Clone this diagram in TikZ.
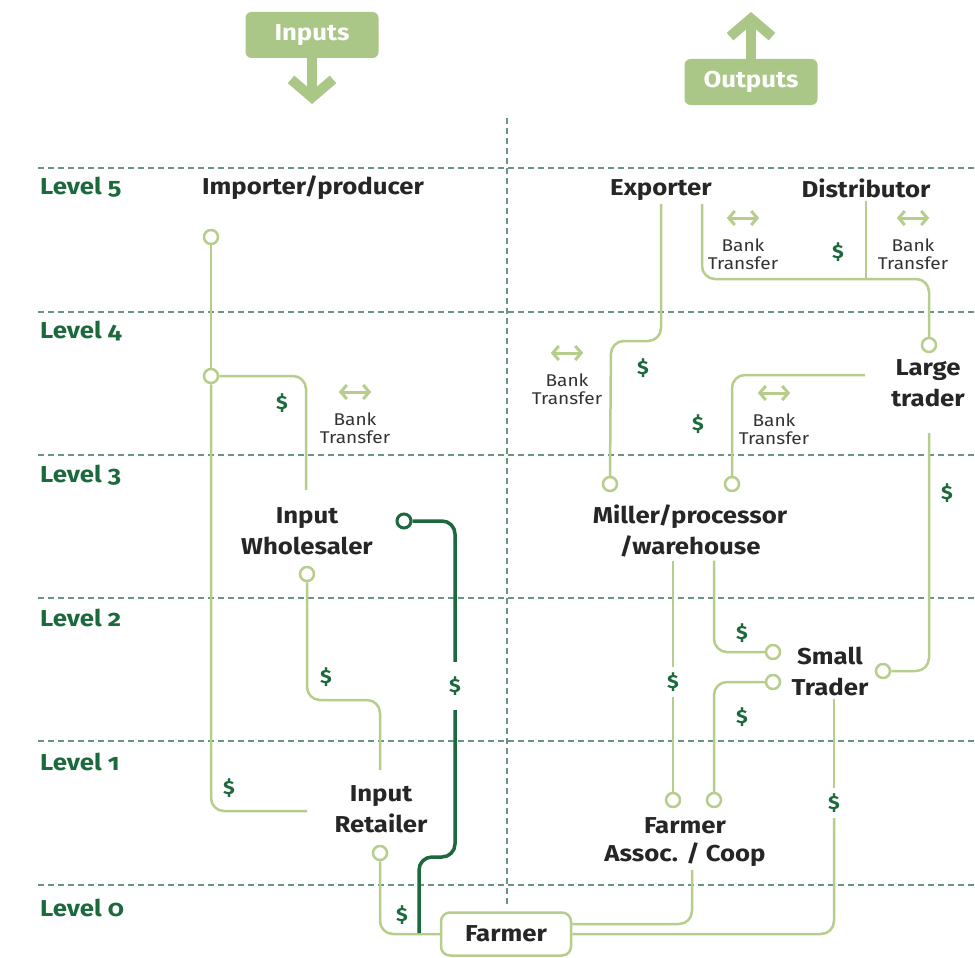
\documentclass[tikz,border=0pt]{standalone}
\usepackage{fontspec}
\setmainfont{Fira Sans}[Numbers=OldStyle, FakeStretch=1.12]
\usepackage{xcolor}
\usepackage{tikz}
\usetikzlibrary{arrows.meta, positioning, calc}
\definecolor{lightgreen}{RGB}{182,205,140}
\definecolor{boxgreen}{RGB}{170,199,135}
\definecolor{darkgreen}{RGB}{27,105,60}
\definecolor{gridgreen}{RGB}{104,150,128}
\tikzstyle{grid} = [draw=gridgreen, line width=1.6pt, dash pattern=on 6pt off 4pt]
\tikzstyle{headbox} = [fill=boxgreen, rounded corners=6pt, text=white, font=\fontsize{23}{26}\selectfont\bfseries, minimum width=133pt, minimum height=46pt]
\tikzstyle{bigarrow} = [draw=boxgreen, line width=10pt, -{Straight Barb[length=18pt, width=42pt]}]
\tikzstyle{level} = [anchor=west, inner sep=0pt, text=darkgreen, font=\fontsize{23}{26}\selectfont\bfseries]
\tikzstyle{actor} = [align=center, text=black!85, font=\fontsize{23}{31}\selectfont\bfseries]
\tikzstyle{farmerbox} = [actor, draw=lightgreen, line width=2.5pt, fill=white, rounded corners=9pt, minimum width=130pt, minimum height=43pt]
\tikzstyle{port} = [circle, draw=lightgreen, line width=2.5pt, fill=white, minimum size=14pt, inner sep=0pt]
\tikzstyle{flow} = [draw=lightgreen, line width=2.5pt, rounded corners=13pt]
\tikzstyle{darkflow} = [draw=darkgreen, line width=3.5pt, rounded corners=13pt]
\tikzstyle{money} = [text=darkgreen, inner sep=2pt, minimum height=30pt, font=\fontsize{19}{21}\selectfont\bfseries]
\tikzstyle{banktext} = [align=center, text=black!80, font=\fontsize{17}{18.5}\selectfont]
\tikzstyle{bankarrow} = [minimum width=32pt, minimum height=14pt, inner sep=0pt]
\tikzstyle{twoway} = [draw=lightgreen, line width=3pt, {Straight Barb[length=6pt, width=14pt]}-{Straight Barb[length=6pt, width=14pt]}]

\begin{document}
\begin{tikzpicture}[x=1pt, y=-1pt]
\useasboundingbox (0,0) rectangle (975,958);

% Level lines
\draw[grid] (38,168) -- (975,168);
\draw[grid] (38,312) -- (975,312);
\draw[grid] (38,455) -- (975,455);
\draw[grid] (38,598) -- (975,598);
\draw[grid] (38,741) -- (975,741);
\draw[grid] (38,885) -- (975,885);
\draw[grid] (507,118) -- (507,905);

% Inputs / Outputs
\node[headbox] (inputs) at (312,35) {Inputs};
\coordinate (intip) at (312,104);
\draw[bigarrow] (inputs.south) -- (intip);
\node[headbox] (outputs) at (751,82) {Outputs};
\coordinate (outtip) at (751,12);
\draw[bigarrow] (outputs.north) -- (outtip);

% Levels
\node[level] (lv5) at (40,187) {Level 5};
\node[level] (lv4) at (40,331) {Level 4};
\node[level] (lv3) at (40,475) {Level 3};
\node[level] (lv2) at (40,618) {Level 2};
\node[level] (lv1) at (40,762) {Level 1};
\node[level] (lv0) at (40,908) {Level 0};

% Actors
\node[actor] (imp) at (313,188) {Importer/producer};
\node[actor] (exp) at (661,190) {Exporter};
\node[actor] (dist) at (866,188) {Distributor};
\node[actor] (large) at (928,383) {Large\\trader};
\node[actor] (whole) at (307,531) {Input\\Wholesaler};
\node[actor] (mill) at (690,531) {Miller/processor\\/warehouse};
\node[actor] (small) at (830,671) {Small\\Trader};
\node[actor] (retail) at (381,809) {Input\\Retailer};
\node[actor, font=\fontsize{23}{28}\selectfont\bfseries] (coop) at (685,842) {Farmer\\Assoc. / Coop};
\node[farmerbox] (farmer) at (506,934) {Farmer};

% Ports
\node[port] (p1) at (211,237) {};
\node[port] (p2) at (211,376) {};
\node[port] (p3) at (307,574) {};
\node[port] (p4) at (380,853) {};
\node[port, draw=darkgreen, line width=3pt] (p5) at (404,521) {};
\node[port] (p6) at (610,484) {};
\node[port] (p7) at (732,484) {};
\node[port] (p8) at (929,345) {};
\node[port] (p9) at (883,671) {};
\node[port] (p10) at (773,652) {};
\node[port] (p11) at (773,682) {};
\node[port] (p12) at (673,800) {};
\node[port] (p13) at (714,800) {};

% Money
\node[money] (m1) at (282,403) {\$};
\node[money] (m2) at (229,788) {\$};
\node[money] (m3) at (326,677) {\$};
\node[money] (m4) at (402,915) {\$};
\node[money, minimum height=48pt] (m5) at (455,686) {\$};
\node[money] (m6) at (643,368) {\$};
\node[money] (m7) at (838,252) {\$};
\node[money] (m8) at (698,424) {\$};
\node[money] (m9) at (947,493) {\$};
\node[money] (m10) at (742,633) {\$};
\node[money] (m11) at (673,682) {\$};
\node[money] (m12) at (742,717) {\$};
\node[money] (m13) at (834,803) {\$};

% Bank transfers
\node[bankarrow] (ba1) at (355,392) {};
\draw[twoway] (ba1.west) -- (ba1.east);
\node[banktext] (bt1) at (355,428) {Bank\\Transfer};
\node[bankarrow] (ba2) at (743,218) {};
\draw[twoway] (ba2.west) -- (ba2.east);
\node[banktext] (bt2) at (743,254) {Bank\\Transfer};
\node[bankarrow] (ba3) at (913,218) {};
\draw[twoway] (ba3.west) -- (ba3.east);
\node[banktext] (bt3) at (913,254) {Bank\\Transfer};
\node[bankarrow] (ba4) at (567,353) {};
\draw[twoway] (ba4.west) -- (ba4.east);
\node[banktext] (bt4) at (567,389) {Bank\\Transfer};
\node[bankarrow] (ba5) at (774,393) {};
\draw[twoway] (ba5.west) -- (ba5.east);
\node[banktext] (bt5) at (774,429) {Bank\\Transfer};

% Input side
\coordinate (w_in) at (306,490);
\coordinate (r_in) at (307,811);
\coordinate (r_top) at (380,770);
\coordinate (fjoin) at (419,933);
\draw[flow] (p1.south) -- (p2.north);
\draw[flow] (p2.south) |- (r_in);
\draw[flow] (p2.east) -| (w_in);
\draw[flow] (p3.south) -- (307,700) -- (380,700) -- (r_top);
\draw[flow] (p4.south) |- (farmer.west);
\draw[darkflow] (p5.east) -| (m5.north);
\draw[darkflow] (m5.south) -- (455,857) -- (419,857) -- (fjoin);

% Output side
\coordinate (l_out) at (865,375);
\coordinate (l_dn) at (929,433);
\coordinate (c_in) at (692,870);
\draw[flow] (exp.south) |- (611,341) -- (p6.north);
\draw[flow] ([xshift=41pt]exp.south) -- (702,279) -- (929,279) -- (p8.north);
\draw[flow] (dist.south) -- (dist.south |- 0,279);
\draw[flow] (l_out) -| (p7.north);
\draw[flow] (l_dn) |- (p9.east);
\draw[flow] (p12 |- mill.south) -- (m11.north);
\draw[flow] (m11.south) -- (p12.north);
\draw[flow] (p13 |- mill.south) |- (p10.west);
\draw[flow] (p11.west) -| (p13.north);
\draw[flow] (m13 |- small.south) -- (m13.north);
\draw[flow] (m13.south) |- (farmer.east);
\draw[flow] ([yshift=10pt]farmer.east) -| (c_in);
\end{tikzpicture}
\end{document}
